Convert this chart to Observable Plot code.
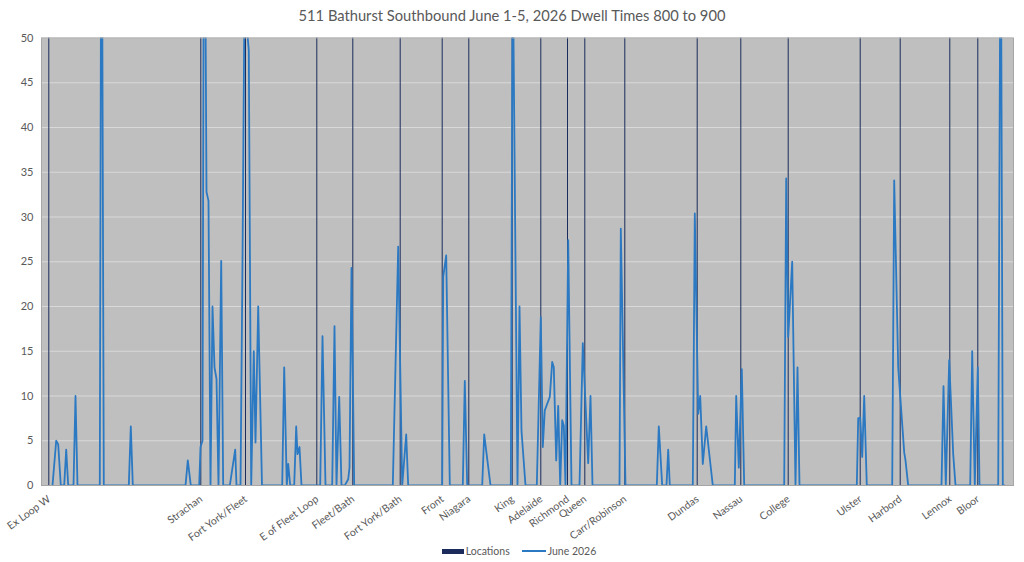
<!DOCTYPE html>
<html>
<head>
<meta charset="utf-8">
<script src="https://cdn.jsdelivr.net/npm/d3@7"></script>
<script src="https://cdn.jsdelivr.net/npm/@observablehq/plot@0.6"></script>
<style>
  html, body { margin: 0; padding: 0; background: #ffffff; }
  body { width: 1024px; height: 562px; overflow: hidden; font-family: Lato, "Open Sans", sans-serif; }
  #title { height: 30px; line-height: 30px; text-align: center; font-size: 14.7px; color: #595959; }
  #chart { height: 510px; }
  #legend { height: 22px; display: flex; justify-content: center; align-items: center; font-size: 10.5px; color: #595959; padding-left: 14px; }
  .item { display: flex; align-items: center; margin: 0 6px; }
  .sw-bar { width: 22px; height: 5px; background: #1b2c5c; margin-right: 2px; }
  .sw-line { width: 24px; height: 2px; background: #2b79c2; margin-right: 2px; }
</style>
</head>
<body>
<div id="title">511 Bathurst Southbound June 1-5, 2026 Dwell Times 800 to 900</div>
<div id="chart"></div>
<div id="legend">
  <div class="item"><div class="sw-bar"></div><span>Locations</span></div>
  <div class="item"><div class="sw-line"></div><span>June 2026</span></div>
</div>
<script>
// Location (stop) names and their positions along the route
const locNames = ["Ex Loop W", "Strachan", "Fort York/Fleet", "E of Fleet Loop", "Fleet/Bath",
  "Fort York/Bath", "Front", "Niagara", "King", "Adelaide", "Richmond", "Queen", "Carr/Robinson",
  "Dundas", "Nassau", "College", "Ulster", "Harbord", "Lennox", "Bloor"];
const locPos = [7.3, 159.3, 204, 275.3, 311.3, 358.7, 400.7, 427.3, 470.7, 499.3, 526, 543.3, 583.3,
  655.7, 699.3, 746.7, 818.7, 858.7, 908.3, 936.3];

// June 2026 dwell-time series (position along route, dwell seconds)
const linePos = [11, 14.7, 16.7, 19.3, 22.7, 24.7, 26.7, 32, 34, 36, 58.3, 60, 62.3,
  87.3, 89.3, 91.3, 144, 146.3, 149.3, 157.7, 159, 161, 162.7, 165, 167, 169, 171, 173, 175, 177, 179.7, 181.7,
  188.3, 193.7, 195, 199, 201, 203, 205.5, 207.3, 209.7, 212.3, 214, 216.7, 220.5,
  240.7, 242.7, 245.3, 246.7, 248.7, 252.7, 254.7, 256, 258, 260,
  278.7, 281, 284, 290.7, 293, 295, 297.7, 300, 303.3, 306.7, 308, 310, 312.7,
  351.3, 356.7, 360.7, 364.7, 366.7, 400.7, 401.7, 404.7, 408.3, 421.3, 423.3, 425.7,
  440.7, 442.7, 449, 469.3, 471.2, 476, 478, 480, 484,
  495.3, 499.3, 501.3, 503.3, 508.3, 510.7, 512.3, 514.7, 516.7, 518.7, 520.7, 522.3, 524, 526.7, 530,
  538, 541.3, 546.7, 549, 551, 578, 579.3, 584, 615.3, 617.3, 620.7, 625, 626.7, 628.3,
  651.3, 653.3, 656.7, 658.7, 661.3, 664.7, 671.3, 693.3, 694.7, 697.3, 700.3, 702.7,
  742.7, 744.7, 746.7, 750.7, 754, 756, 758, 815.3, 816.7, 818.7, 820.7, 822.7, 825.3,
  850.7, 852.7, 856.7, 862.7, 864, 866.7, 900, 902, 904.3, 907.7, 911.7, 914,
  928.7, 930.7, 933.3, 936.3, 938, 956.7, 959.2, 961.3, 963];
const lineDwell = [0, 5, 4.6, 0, 0, 4, 0, 0, 10, 0, 0, 80, 0,
  0, 6.6, 0, 0, 2.8, 0, 0, 4.3, 5, 80, 32.8, 31.8, 0, 20, 13.2, 11.9, 0, 25.1, 0,
  0, 4, 0, 0, 25.1, 55, 51, 48.6, 0, 15, 4.8, 20, 0,
  0, 13.2, 0, 2.4, 0, 0, 6.6, 3.5, 4.3, 0,
  0, 16.7, 0, 0, 17.8, 0, 9.9, 0, 0, 0.7, 2, 24.3, 0,
  0, 26.7, 0, 5.7, 0, 0, 23.3, 25.7, 0, 0, 11.7, 0,
  0, 5.7, 0, 0, 60, 0, 20, 6.1, 0,
  0, 18.8, 4.3, 8.4, 9.9, 13.8, 13.2, 2.8, 8.9, 0, 7.3, 6.7, 0, 27.4, 0,
  0, 15.9, 2.5, 10, 0, 0, 28.7, 0, 0, 6.6, 0, 0, 4, 0,
  0, 30.4, 8, 10, 2.4, 6.6, 0, 0, 10, 2, 13, 0,
  0, 34.3, 16.6, 25, 0, 13.2, 0, 0, 7.5, 7.6, 3.2, 10, 0,
  0, 34.1, 13.2, 3.7, 2.8, 0, 0, 11.1, 0, 14, 3.5, 0,
  0, 15, 0, 13.2, 0, 0, 70, 0, 0];

const yTicks = [0, 5, 10, 15, 20, 25, 30, 35, 40, 45, 50];
const xDomain = [0, 972];
const yDomain = [0, 50];

const locations = locNames.map((name, i) => ({name, pos: locPos[i]}));
const series = linePos.map((p, i) => ({pos: p, dwell: lineDwell[i]}));

const chart = Plot.plot({
  width: 1024,
  height: 510,
  marginLeft: 41,
  marginRight: 11,
  marginTop: 7.5,
  marginBottom: 55,
  x: {domain: xDomain, axis: null},
  y: {domain: yDomain, axis: null},
  style: {fontFamily: "Lato, 'Open Sans', sans-serif", fontSize: "11px", color: "#595959", background: "#ffffff", overflow: "visible"},
  marks: [
    Plot.frame({fill: "#bfbfbf"}),
    Plot.gridY(yTicks, {stroke: "#d9d9d9", strokeOpacity: 1, strokeWidth: 1}),
    Plot.ruleX(locations, {x: "pos", y1: 0, y2: 50, stroke: "#1b2c5c", strokeWidth: 1}),
    Plot.line(series, {x: "pos", y: "dwell", stroke: "#2b79c2", strokeWidth: 1.8, clip: true}),
    Plot.frame({stroke: "#a6a6a6"}),
    Plot.axisY(yTicks, {tickSize: 0, tickPadding: 8, label: null, fill: "#595959", fontSize: 11}),
    Plot.text(locations, {x: "pos", y: 0, text: "name", rotate: -36, textAnchor: "end",
      lineAnchor: "top", dx: -2, dy: 9, fill: "#595959", fontSize: 10.5})
  ]
});
document.getElementById("chart").appendChild(chart);
</script>
</body>
</html>
